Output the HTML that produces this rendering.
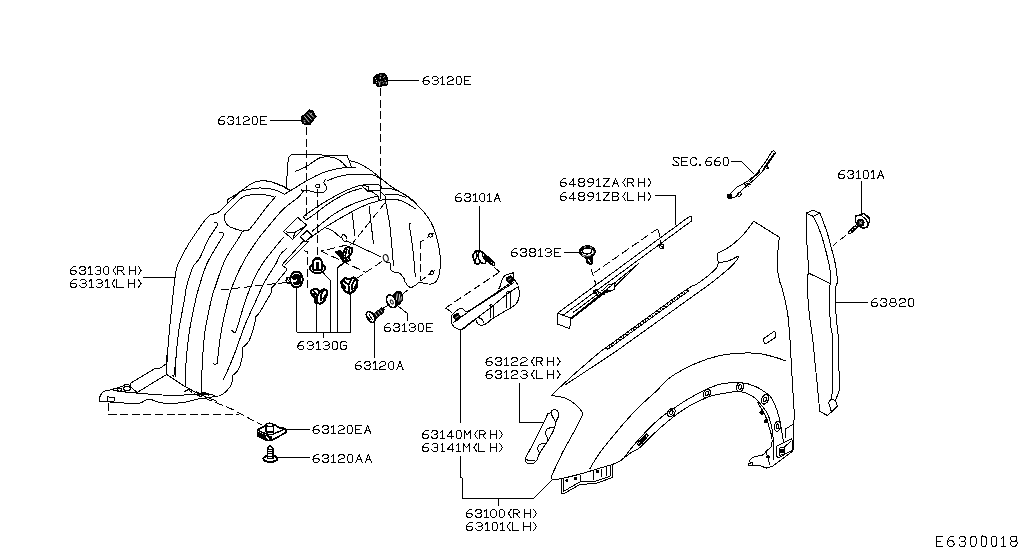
<!DOCTYPE html>
<html><head><meta charset="utf-8"><title>E6300018</title>
<style>
html,body{margin:0;padding:0;background:#fff;}
body{width:1024px;height:560px;overflow:hidden;font-family:"Liberation Mono",monospace;}
svg{display:block;position:absolute;left:0;top:0;}
path,line,ellipse,circle,rect,polygon{shape-rendering:crispEdges;fill:none;stroke:#000;stroke-width:1;stroke-linecap:butt;stroke-linejoin:round;}
.d{stroke-dasharray:8 3.6;}
.ds{stroke-dasharray:5 3.5;}
.f{fill:#000;}
.w{fill:#fff;}
.k{stroke-width:1.6;}
.t{font-family:"Liberation Mono",monospace;font-size:13.6px;fill:#000;stroke:none;}
</style></head><body>
<svg width="1024" height="560" viewBox="0 0 1024 560">
<rect x="0" y="0" width="1024" height="560" style="fill:#fff;stroke:none"/>
<path d="M166.25 375 C166.36 373.12 166.48 370 166.9 363.75 C167.32 357.5 167.82 348.12 168.75 337.5 C169.68 326.88 171.25 311.25 172.5 300 C173.75 288.75 175 276.67 176.25 270 C177.5 263.33 178.04 264.17 180 260 C181.96 255.83 184.88 250.21 188 245 C191.12 239.79 195.71 233.12 198.75 228.75 C201.79 224.38 204.28 221.14 206.25 218.75 C208.22 216.36 209.88 215.12 210.6 214.4"/>
<path d="M210.6 214.4 C211.65 214.18 214.71 214.25 216.9 213.1 C219.09 211.95 221.98 209.17 223.75 207.5 C225.52 205.83 226.88 203.83 227.5 203.1"/>
<path d="M227.5 203.1 C227.6 202.48 226.43 200.96 228.1 199.4 C229.77 197.84 234.68 195.63 237.5 193.75 C240.32 191.87 242.5 189.88 245 188.1 C247.5 186.32 250 184.28 252.5 183.1 C255 181.92 257.08 181.27 260 181 C262.92 180.73 266.88 180.93 270 181.5 C273.12 182.07 276.04 183.4 278.75 184.4 C281.46 185.4 284.38 186.47 286.25 187.5 C288.12 188.53 289.38 190.08 290 190.6"/>
<path d="M227.5 203.1 C229.17 201.67 235.21 196.47 237.5 194.5 C239.79 192.53 237.92 192.32 241.25 191.25 C244.58 190.18 252.71 188.52 257.5 188.1 C262.29 187.68 266.46 188.22 270 188.75 C273.54 189.28 276.35 190.31 278.75 191.25 C281.15 192.19 283.46 193.88 284.4 194.4"/>
<path d="M284.4 194.4 L290 190.6 L298 186.25"/>
<path d="M224.4 215 C227.21 212.18 236.98 201.43 241.25 198.1 C245.52 194.77 246.88 195.62 250 195 C253.12 194.38 256.67 194.3 260 194.4 C263.33 194.5 267.5 195.08 270 195.6 C272.5 196.12 274.17 197.18 275 197.5"/>
<path d="M275.6 195.6 L275 197.5"/>
<path d="M275 197.5 C273.54 199.17 270.42 202.29 266.25 207.5 C262.08 212.71 253.54 224.9 250 228.75 C246.46 232.6 246.25 230.18 245 230.6 C243.75 231.02 242.92 231.14 242.5 231.25"/>
<path d="M242.5 231.25 C240.42 230.53 232.82 228.36 230 226.9 C227.18 225.44 226.53 224.07 225.6 222.5 C224.67 220.93 224.6 218.75 224.4 217.5 C224.2 216.25 224.4 215.42 224.4 215"/>
<path d="M213.75 222.5 C214.38 222.6 216.97 222.47 217.5 223.1 C218.03 223.72 217 225.72 216.9 226.25"/>
<path d="M216.9 226.25 C215.42 228.54 210.82 234.79 208 240 C205.18 245.21 202.58 252.83 200 257.5 C197.42 262.17 194.79 262.92 192.5 268 C190.21 273.08 187.6 282.67 186.25 288 C184.9 293.33 185.65 292.79 184.4 300 C183.15 307.21 180.22 320.83 178.75 331.25 C177.28 341.67 176.22 354.79 175.6 362.5 C174.97 370.21 175.1 375 175 377.5"/>
<path d="M219.4 232.5 C220.12 232.6 223.13 232.47 223.75 233.1 C224.37 233.72 223.21 235.72 223.1 236.25"/>
<path d="M223.1 236.25 C222.68 236.88 223.2 235.62 220.6 240 C218 244.38 210.93 255.21 207.5 262.5 C204.07 269.79 201.98 277.5 200 283.75 C198.02 290 197.37 292.08 195.6 300 C193.83 307.92 190.96 321.25 189.4 331.25 C187.84 341.25 186.97 350.83 186.25 360 C185.53 369.17 185.29 381.88 185.1 386.25"/>
<path d="M242.5 231.25 C241.67 232.71 240.42 235.21 237.5 240 C234.58 244.79 228.75 252.08 225 260 C221.25 267.92 217.29 280.83 215 287.5 C212.71 294.17 212.92 292.71 211.25 300 C209.58 307.29 206.46 321.25 205 331.25 C203.54 341.25 203.12 349.69 202.5 360 C201.88 370.31 201.46 387.58 201.25 393.1"/>
<path d="M298 197.5 C295.42 199.58 287.58 205 282.5 210 C277.42 215 271.67 222.5 267.5 227.5 C263.33 232.5 261.46 234.38 257.5 240 C253.54 245.62 247.71 254.17 243.75 261.25 C239.79 268.33 236.36 276.04 233.75 282.5 C231.14 288.96 230.18 291.88 228.1 300 C226.02 308.12 223.02 321.25 221.25 331.25 C219.48 341.25 218.22 354.58 217.5 360 C216.78 365.42 217 363.12 216.9 363.75"/>
<path d="M216.9 363.75 C216.58 363.86 215.63 364.51 215 364.4 C214.37 364.29 213.42 363.32 213.1 363.1"/>
<path d="M284.4 237.5 C283.88 237.92 284.9 235.62 281.25 240 C277.6 244.38 267.29 256.67 262.5 263.75 C257.71 270.83 255.32 276.46 252.5 282.5 C249.68 288.54 247.89 293.33 245.6 300 C243.31 306.67 240.31 317.4 238.75 322.5 C237.19 327.6 236.97 328.93 236.25 330.6 C235.53 332.27 235.23 332.6 234.4 332.5 C233.57 332.4 231.78 330.42 231.25 330"/>
<path d="M286.9 248.1 C285.75 249.25 281.77 252.5 280 255 C278.23 257.5 278.75 258.73 276.25 263.1 C273.75 267.48 268.33 275.1 265 281.25 C261.67 287.4 259.58 292.71 256.25 300 C252.92 307.29 248.54 316.25 245 325 C241.46 333.75 237.82 345.1 235 352.5 C232.18 359.9 230.08 364.92 228.1 369.4 C226.12 373.88 223.93 377.73 223.1 379.4"/>
<path d="M303.75 240.6 L281.9 265 L286.9 268.75 L286.25 270.6"/>
<path d="M286.25 270.6 C284.38 272.9 277.39 281.58 275 284.4 C272.61 287.22 272.42 286.98 271.9 287.5"/>
<path d="M271.9 287.5 C271.79 288.33 272.08 290.42 271.25 292.5 C270.42 294.58 268.77 296.77 266.9 300 C265.02 303.23 261.88 309.08 260 311.9 C258.12 314.72 256.33 316.07 255.6 316.9"/>
<path d="M255.6 316.9 C255.4 318.25 255.54 320.94 254.4 325 C253.26 329.06 250.73 337.5 248.75 341.25 C246.77 345 243.54 346.46 242.5 347.5"/>
<path d="M242.5 347.5 C242.4 349.38 242.63 355 241.9 358.75 C241.17 362.5 239.67 367.19 238.1 370 C236.53 372.81 233.43 374.67 232.5 375.6"/>
<path d="M232.5 375.6 C232.4 376.85 232.73 380.7 231.9 383.1 C231.07 385.5 229.28 388.02 227.5 390 C225.72 391.98 223.12 393.96 221.25 395 C219.38 396.04 217.92 396.35 216.25 396.25 C214.58 396.15 213.75 394.92 211.25 394.4 C208.75 393.88 202.92 393.32 201.25 393.1"/>
<path d="M303.75 240.6 L306.25 241.9 L308.75 241.25"/>
<path d="M308.75 241.25 L285 265"/>
<path d="M99.5 401.25 C99.5 400.73 99.18 399.35 99.5 398.1 C99.82 396.85 100.57 394.89 101.4 393.75 C102.23 392.61 102.94 391.92 104.5 391.25 C106.06 390.58 108.04 390.48 110.75 389.75 C113.46 389.02 118.36 387.73 120.75 386.9 C123.14 386.07 123.85 385.11 125.1 384.75 C126.35 384.39 127.42 384.5 128.25 384.75 C129.08 385 129.79 386 130.1 386.25"/>
<path d="M130.1 386.25 L130.75 383.1 L154.5 368.75 L157 368.5 L160.1 368.1 L166.75 363.5"/>
<path d="M166.75 355 L166.75 374.4"/>
<path d="M137 392.5 L166.75 374.4 L184.5 386.25 L198.25 393.75 L217 401.25"/>
<path d="M99.5 401.25 C100.96 401.36 103.88 401.59 108.25 401.9 C112.62 402.21 120.54 402.9 125.75 403.1 C130.96 403.3 135.96 403.72 139.5 403.1 C143.04 402.48 145.12 400.02 147 399.4 C148.88 398.78 148.67 398.88 150.75 399.4 C152.83 399.92 156.38 401.82 159.5 402.5 C162.62 403.18 165.33 403.54 169.5 403.5 C173.67 403.46 179.5 403.04 184.5 402.25 C189.5 401.46 195.33 399.54 199.5 398.75 C203.67 397.96 206.71 397.92 209.5 397.5 C212.29 397.08 215.12 396.46 216.25 396.25"/>
<path d="M113.25 390.6 C115.12 390.82 120.54 391.48 124.5 391.9 C128.46 392.32 130.75 392.58 137 393.1 C143.25 393.62 154.08 394.68 162 395 C169.92 395.32 178.46 395.1 184.5 395 C190.54 394.9 193.79 394.5 198.25 394.4 C202.71 394.3 209.08 394.4 211.25 394.4"/>
<path d="M130.1 386.25 L137 392.5"/>
<ellipse cx="127" cy="388.5" rx="3.4" ry="2.2"/>
<ellipse cx="119.5" cy="389.6" rx="2.2" ry="1.6"/>
<path d="M107.6 396.9 L114.5 397.5 L113.9 401.9 L107.6 401.25Z"/>
<path d="M176.4 355 L173.9 376.25 L171.5 374.8"/>
<path d="M184.5 391.5 L188.5 389.5 L192 392.5"/>
<path d="M196 391.5 L200 393.5 L205 392 L209 395.5"/>
<path class="d" d="M108.9 402.5 L108.9 414.4 L239 414.4"/>
<path class="d" d="M194 393.75 L232.5 409.4 L261.5 425"/>
<path d="M286.4 187.5 C286.5 185.62 286.69 180.83 287 176.25 C287.31 171.67 287.73 163.44 288.25 160 C288.77 156.56 289.38 156.53 290.1 155.6 C290.83 154.67 292.18 154.6 292.6 154.4"/>
<path d="M292.6 154.4 L321.4 154.4 L322 155.25 L347 155.25 L348.9 160 L351.4 167.25"/>
<path d="M295.1 171.5 C296.88 170.73 302.73 168.5 305.75 166.9 C308.77 165.3 310.75 163.47 313.25 161.9 C315.75 160.33 317.42 158.23 320.75 157.5 C324.08 156.77 329.92 156.88 333.25 157.5 C336.58 158.12 338.46 159.58 340.75 161.25 C343.04 162.92 345.96 166.46 347 167.5"/>
<path d="M347 167.5 L355.75 167.5"/>
<path d="M290.75 190.6 C293.25 189.04 300.54 184.17 305.75 181.25 C310.96 178.33 316.79 175.18 322 173.1 C327.21 171.02 332.83 169.68 337 168.75 C341.17 167.82 345.33 167.71 347 167.5"/>
<path d="M348.9 160.25 C350.67 160.83 356.07 162.22 359.5 163.75 C362.93 165.28 366.38 167.32 369.5 169.4 C372.62 171.48 374.71 173.44 378.25 176.25 C381.79 179.06 387.79 184.06 390.75 186.25 C393.71 188.44 393.04 187.53 396 189.4 C398.96 191.28 404.75 194.69 408.5 197.5 C412.25 200.31 415.38 203.12 418.5 206.25 C421.62 209.38 424.75 212.71 427.25 216.25 C429.75 219.79 431.83 223.54 433.5 227.5 C435.17 231.46 436.42 237.08 437.25 240 C438.08 242.92 437.98 241.88 438.5 245 C439.02 248.12 440.19 254.38 440.4 258.75 C440.61 263.12 440.27 267.71 439.75 271.25 C439.23 274.79 438.5 277.92 437.25 280 C436 282.08 434.12 283.12 432.25 283.75 C430.38 284.38 428.08 284.06 426 283.75 C423.92 283.44 420.79 282.21 419.75 281.9"/>
<path d="M327 180.6 C329.29 179.83 336.38 177.03 340.75 176 C345.12 174.97 348.46 174.67 353.25 174.4 C358.04 174.13 365.75 174.13 369.5 174.4 C373.25 174.67 373.88 175.17 375.75 176 C377.62 176.83 379.92 178.83 380.75 179.4"/>
<path d="M325.75 179.4 C325.44 179.92 323.79 181.25 323.9 182.5 C324.01 183.75 326.09 185.55 326.4 186.9 C326.71 188.25 326.48 189.67 325.75 190.6 C325.02 191.53 324.08 192.28 322 192.5 C319.92 192.72 315.54 192.22 313.25 191.9 C310.96 191.58 309.81 190.82 308.25 190.6 C306.69 190.38 305.15 190.8 303.9 190.6 C302.65 190.4 301.27 189.6 300.75 189.4"/>
<path d="M300.75 189.4 L303.25 191.9 L298 197.5"/>
<path d="M315.1 186L316.1 184.7L319.1 184.7L320.1 186L319.1 187.3L316.1 187.3Z"/>
<path d="M272 182.5 C273.25 182.92 276.79 183.85 279.5 185 C282.21 186.15 286.79 188.67 288.25 189.4"/>
<path d="M303.4 216.9 C304 216.38 303.9 215.94 307 213.75 C310.1 211.56 316.17 207.29 322 203.75 C327.83 200.21 335.75 195.53 342 192.5 C348.25 189.47 353.88 186.95 359.5 185.6 C365.12 184.25 372.21 184.4 375.75 184.4 C379.29 184.4 379.92 185.4 380.75 185.6"/>
<path d="M305.9 220 C307.43 218.96 311.38 216.46 315.1 213.75 C318.83 211.04 322.93 207.19 328.25 203.75 C333.57 200.31 341.38 195.71 347 193.1 C352.62 190.49 359.5 188.93 362 188.1"/>
<path d="M312.1 231.25 C315.83 228.33 327.64 218.33 334.5 213.75 C341.36 209.17 347 206.46 353.25 203.75 C359.5 201.04 367.83 198.75 372 197.5 C376.17 196.25 377.21 196.46 378.25 196.25"/>
<path d="M310 238 C312.75 236.08 320.33 230.43 326.5 226.5 C332.67 222.57 340.46 217.98 347 214.4 C353.54 210.82 359.92 207.4 365.75 205 C371.58 202.6 378.77 200.83 382 200 C385.23 199.17 384.58 200 385.1 200"/>
<path d="M303.4 216.9 L305.9 220"/>
<path d="M361.4 185.6 L368.25 186.25 L368.25 190.6 L380.75 190.6 L381.4 185.6"/>
<path d="M361.6 185.6 L367.9 191.25 L372.25 191.9 L378.5 196.25 L379.1 200"/>
<path d="M380.4 180 L380.4 191.25 L385.4 196.25 L385.4 200.6"/>
<path d="M381 188.1 C382.67 188.21 387.67 188.02 391 188.75 C394.33 189.48 397.67 190.83 401 192.5 C404.33 194.17 408.29 196.77 411 198.75 C413.71 200.73 416.21 203.46 417.25 204.4"/>
<path d="M384.75 195 C387.04 195 394.96 194.58 398.5 195 C402.04 195.42 404.75 197.08 406 197.5"/>
<path d="M385.4 200 C387.58 200 394.86 199.38 398.5 200 C402.14 200.62 404.43 202.29 407.25 203.75 C410.07 205.21 414.04 207.92 415.4 208.75"/>
<path d="M385.4 200.6 C385.92 203.42 387.67 212.6 388.5 217.5 C389.33 222.4 389.57 221.88 390.4 230 C391.23 238.12 392.98 260.21 393.5 266.25"/>
<path d="M352.25 213.1 L354.75 236.25"/>
<path d="M369.1 206.25 L373.5 244.4"/>
<path d="M408.5 223.1 L411 223.1"/>
<path d="M409.1 223.75 C409.73 228.12 411.85 241.04 412.9 250 C413.95 258.96 414.98 272.92 415.4 277.5"/>
<path d="M326.5 228.1 C327.58 228.58 330.92 229.64 333 231 C335.08 232.36 337.5 235.08 339 236.25 C340.5 237.42 341.5 237.71 342 238"/>
<path d="M347 241.25 L354.75 244.5 L381 256.9"/>
<ellipse cx="385.75" cy="258.1" rx="2.4" ry="3.6" transform="rotate(-15 385.75 258.1)"/>
<ellipse cx="344.4" cy="238.1" rx="2.2" ry="3.6" transform="rotate(-25 344.4 238.1)"/>
<path d="M386 262.5 C386.73 262.6 389.57 261.85 390.4 263.1 C391.23 264.35 390.48 268.53 391 270 C391.52 271.47 392.25 271.48 393.5 271.9 C394.75 272.32 396.83 271.57 398.5 272.5 C400.17 273.43 402.35 275.83 403.5 277.5 C404.65 279.17 404.15 280.83 405.4 282.5 C406.65 284.17 408.61 287.6 411 287.5 C413.39 287.4 418.29 282.83 419.75 281.9"/>
<path d="M283.4 231.5 L297.75 217.5 L306.5 225 L292.75 239.4Z"/>
<path d="M285.9 231.9 L294.6 232.5 L306.5 225.6"/>
<path d="M294.6 232.5 L293.4 238.75"/>
<path d="M300.25 236.9 L307.1 230.6 L312.1 235.6 L305.25 241.9Z"/>
<path class="d" d="M306.5 127 L306.5 219.5"/>
<path class="d" d="M304.4 250.6L307.5 251.9L307.5 288.75L310.6 290.6" style="stroke-dashoffset:3"/>
<path class="d" d="M380.5 88 L380.5 198.75"/>
<path class="d" d="M317.6 188.75 L317.6 257.5"/>
<path class="d" d="M384.75 203.1 L352.25 243.75 L321 251"/>
<path class="d" d="M321 251 L366 272.5"/>
<path class="d" d="M382.25 261.25 L357.25 278.1"/>
<path class="d" d="M286.25 282.5 L268.75 284.4 L221.25 290"/>
<path class="d" d="M420.4 241.25 L420.4 281.25"/>
<path d="M423.5 240 L421 241.9"/>
<path d="M426 276.9 L420.4 281"/>
<path d="M408.5 289.6 L403.3 293.4"/>
<path d="M428.6 236.4L428.8 234.4L430.4 233.4L432 234.2L432.2 236.2L430.6 237.2ZM427 237.6L429 236.4M432 234L433.4 233.2" style="stroke-width:1.2"/>
<path d="M430 273.8L430.2 271.8L431.8 270.8L433.4 271.6L433.6 273.6L432 274.6ZM428.4 275L430.4 273.8M433.4 271.4L434.8 270.6" style="stroke-width:1.2"/>
<g><path class="f" d="M373.1 77.6L376.3 74.8L379.1 73.9L385 73.9L386.9 76.7L387.8 82L386.9 85.4L381.9 85.8L381.3 86.7L378.4 86.7L376.3 85.8L375.9 83.6L373.1 83.6Z"/><path d="M375 78.5L376 78.5M380 75.2L381.5 75.2M380.3 77L380.3 79M383.3 77.8L384.8 76.2M384.8 79.8L385.8 81M376 80.5L377 80.5M376 82.5L377 82.5M378.5 81.5L379.8 83.8L379.5 85.5M380 82.5L381 81.3M382.5 81.5L383 81.5M384 82.5L383 83.8M386.3 82L386.3 84" style="stroke:#fff;stroke-width:0.9"/></g>
<path d="M387.8 80.4 L418.75 80.4"/>
<g><path class="f" d="M301.1 117.4L309.3 109.9L312.4 110.3L316.1 116.5L309.9 124.6L306.1 124.9L303 123.4L301.4 120.3Z"/><path d="M304.3 116.2L309.3 122.2M306.8 114.3L311.6 119.7M308.8 112.3L313.9 117.5M310.5 114.5L312 112.8" style="stroke:#fff;stroke-width:0.9"/><path d="M303.5 120.8L305.3 120.8M304 122.6L305.5 122.6" style="stroke:#fff;stroke-width:0.8"/></g>
<path d="M270 120.5 L301.5 120.5"/>
<path d="M296.5 287.5 L296.5 332 L350.5 332 L350.5 293.75"/>
<path d="M316.25 303.75 L316.25 332"/>
<path d="M322 271.5 L330 280 L330 332"/>
<path d="M337.75 332 L337.75 267.5 L344.75 261.5"/>
<path d="M323.5 332 L323.5 337.5"/>
<ellipse cx="296.5" cy="279.5" rx="6.3" ry="7.8" class="w" style="stroke-width:2"/><path class="f" d="M291.5 277L295.5 274.2L300 275.2L301 279L300.3 283.5L296 285L293.3 283L297 281.5L297.5 278.5L293.5 279.5Z"/><ellipse cx="288.3" cy="280.3" rx="2.1" ry="2.9" class="w" style="stroke-width:1.5"/><path d="M287 279L289.5 281.5" style="stroke-width:1"/>
<ellipse cx="317.5" cy="268.2" rx="7.6" ry="4.8" class="w" style="stroke-width:2"/><path class="w" d="M313.4 269.8L313.4 261L315.3 258.5L319.7 258.5L321.6 261L321.6 269.8Z" style="stroke-width:2.1"/><path d="M317.5 261.5L317.5 269" style="stroke-width:2.6"/><path d="M317.5 257.5L317.5 260" style="stroke-width:1.2"/>
<g><path class="w" d="M310.6 291.3L314.4 288.8L317.5 289.4L320 291.3L323.8 289.4L326.9 290.6L326.9 295L325 298.1L324.4 301.3L320 303.8L315.6 302.5L315 298.1L311.9 295Z" style="stroke-width:2.2"/><path d="M313 290.5L317.5 295.5L317 302.5M320.3 291.5L317.5 295.5M323.5 290.5L320.8 295L321.3 301M325.8 294.5L323 299.5M312 293L315.5 297" style="stroke-width:1.9"/></g>
<g><path class="w" d="M341.3 281.3L345 278.1L350 279.4L353.8 277.5L357.5 280L356.9 286.3L355 290L350 293.8L345 291.3L341.9 286.3Z" style="stroke-width:2.2"/><path d="M343.5 280.5L348.5 285L349 292.5M351 280L348.5 285M355 279.5L352.3 284.5L352.5 291M356.3 285L353.5 289.5M342.5 284L346 288.5" style="stroke-width:1.9"/></g>
<g><path class="f" d="M336 251.9L340 250.8L344 254L345.5 257L343 261L340 256.3Z" style="stroke-width:1.6"/><path class="w" d="M343.1 253.8L345 248.8L348.1 246.9L351.9 248.1L352.5 251.9L350 255L348.1 256.9L350 260L346.3 261.9L342.5 260Z" style="stroke-width:2"/><path d="M346.8 249L345.2 255.5L347 260.5M349.8 248.5L348.5 254.5M344 257.5L346 259" style="stroke-width:1.7"/></g>
<path d="M337.25 268.1 L344.75 262.5"/>
<g><path class="f" d="M393.5 294.5L397 291.5L400.5 291.8L402.6 294.5L402.8 299.5L400 303.5L396.5 306.5L394.5 303Z"/><path d="M397.3 293.5L396.3 300.5M399.8 294L398.8 301.5M401.5 296.5L400.8 300.5" style="stroke:#fff;stroke-width:0.9"/><ellipse class="w" cx="391.4" cy="301.3" rx="4.3" ry="6.8" transform="rotate(-28 391.4 301.3)" style="stroke-width:1.7"/><ellipse cx="391.8" cy="302" rx="1.3" ry="2.2" transform="rotate(-28 391.8 302)" style="stroke-width:1"/></g>
<path d="M398.25 306.25 L407 313.1 L407 321.25"/>
<g><path class="f" d="M372.5 314.8L381.8 307.8L384.2 309.8L383.3 312.5L374.8 319.5Z"/><path d="M375.2 313.3L377.2 316.5M377.7 311.4L379.7 314.5M380.2 309.6L382.2 312.4" style="stroke:#fff;stroke-width:0.9"/><ellipse class="w" cx="370.6" cy="317" rx="3.4" ry="6" transform="rotate(-30 370.6 317)" style="stroke-width:1.9"/><path d="M369 314.5L372.5 319.8M368 317L370.5 320.5" style="stroke-width:1.3"/></g>
<path d="M374.5 322.5 L374.5 357.5"/>
<path d="M383.25 308.1 L389.5 304.4"/>
<g><path class="w" d="M257.3 429.9L266.1 425.2L274.9 424.8L279.6 428L285.1 428.5L286.5 432.2L272.1 440.1L267 440.5L258.2 436.4Z" style="stroke-width:1.7"/><path d="M257.5 430.3L266.5 434L271.5 434.8L285 429" style="stroke-width:1.4"/><path class="f" d="M258.4 432.5L266.5 435.8L271 436.2L272 440L267 440.4L258.4 436.3Z"/><path d="M266 436.5L269.5 439.5" style="stroke:#fff;stroke-width:1.3"/><rect class="w" x="265.8" y="424.6" width="7.6" height="7.2" style="stroke-width:1.6"/><ellipse class="w" cx="269.7" cy="424.9" rx="3.4" ry="1.7" style="stroke-width:1.5"/></g>
<path d="M286 429.4 L309.5 429.4"/>
<g><ellipse class="w" cx="270.3" cy="458.7" rx="7" ry="3.2" style="stroke-width:2"/><path class="w" d="M267.5 458.5L267.5 448.5L270.1 445.3L272.7 448.5L272.7 458.5Z" style="stroke-width:1.7"/><path d="M267.8 449.5L272.4 449.5M267.8 451.7L272.4 451.7M267.8 453.9L272.4 453.9M267.8 456.1L272.4 456.1" style="stroke-width:1.1"/></g>
<path d="M277.7 457.3 L309.5 457.3"/>
<path d="M143 277.5 L176.25 277.5"/>
<path d="M451.4 315.6 L451.4 323.1 L454.5 327.5 L460.75 330"/>
<path d="M451.4 315.6 C451.92 315.08 453.15 313.64 454.5 312.5 C455.85 311.36 458.15 309.38 459.5 308.75 C460.85 308.12 461.67 308.33 462.6 308.75 C463.53 309.17 463.95 310.94 465.1 311.25 C466.25 311.56 468.77 310.71 469.5 310.6"/>
<path d="M469.5 310.6 L502 288.75 L513.25 281.25"/>
<path d="M452.6 323.1 L472 309.4 L503 289.5 L513.9 282.5"/>
<path d="M460.75 330 L475.75 318.75 L490.75 307.5 L505.75 295 L517.6 286.9"/>
<path class="k" d="M461.5 329.8 L475 319.6"/>
<path d="M475.75 319.4 C476.17 320.23 477 323.47 478.25 324.4 C479.5 325.33 481.79 325.22 483.25 325 C484.71 324.78 485.33 324.25 487 323.1 C488.67 321.95 489.92 320.28 493.25 318.1 C496.58 315.92 503.25 312.28 507 310 C510.75 307.72 513.77 306.38 515.75 304.4 C517.73 302.42 518.31 300.17 518.9 298.1 C519.49 296.03 519.41 293.93 519.3 292 C519.19 290.07 518.42 287.42 518.25 286.5"/>
<path d="M478.25 317.5 C478.88 317.82 481.06 318.47 482 319.4 C482.94 320.33 483.58 322.48 483.9 323.1"/>
<path d="M489.5 305.6 L491.4 304.4 L493.25 305.6 L493.9 317.5"/>
<path d="M490 306 L490.75 318.1"/>
<path d="M506.75 291.9 L510.1 291.25 L510.1 306.9"/>
<path d="M506.75 291.9 L507 308.1"/>
<path d="M504.5 275.6 C504.08 276.33 502.73 278.23 502 280 C501.27 281.77 500.68 284.67 500.1 286.25 C499.52 287.83 498.77 288.96 498.5 289.5"/>
<path d="M504.5 275.6 L513.25 272.75 L513.9 278.75 L518.25 285.6"/>
<rect class="f" x="454.2" y="314" width="5.6" height="5.8" rx="1.5" transform="rotate(-30 457 317)"/><path d="M455.5 317.8L458.5 316" style="stroke:#fff;stroke-width:0.8"/>
<rect class="f" x="506.8" y="276.5" width="5.8" height="5.8" rx="1.5" transform="rotate(-30 509.7 279.4)"/><path d="M508.2 280.2L511.2 278.4" style="stroke:#fff;stroke-width:0.8"/>
<path class="d" d="M499.5 271.9 L446.4 307.5"/>
<path d="M445.75 308.1 L452 312.5"/>
<path d="M460.75 330 L460.75 423"/>
<path d="M460.75 456.25 L460.75 477.5 L462 478 L462 498 L533.75 498 L552.5 479.5"/>
<path d="M498.25 498 L498.25 506.25"/>
<path d="M479.4 206 L479.4 250.6"/>
<g><path class="w" d="M472.6 255L475.6 251.2L480.2 250.7L482.5 253L481 262L478 264.3L474.8 263.2Z" style="stroke-width:1.5"/><path d="M476.8 251.5L475.6 262.8" style="stroke-width:1.1"/><ellipse class="w" cx="482.2" cy="257.6" rx="3.6" ry="6.3" transform="rotate(-22 482.2 257.6)" style="stroke-width:1.5"/><ellipse cx="484.8" cy="256.6" rx="1.6" ry="3.6" transform="rotate(-32 484.8 256.6)" style="stroke-width:1.3"/><ellipse cx="486.7" cy="258.2" rx="1.6" ry="3.5" transform="rotate(-32 486.7 258.2)" style="stroke-width:1.3"/><ellipse cx="488.6" cy="259.8" rx="1.6" ry="3.4" transform="rotate(-32 488.6 259.8)" style="stroke-width:1.3"/><ellipse cx="490.5" cy="261.4" rx="1.6" ry="3.2" transform="rotate(-32 490.5 261.4)" style="stroke-width:1.3"/><ellipse cx="492.4" cy="263.0" rx="1.6" ry="3.1" transform="rotate(-32 492.4 263.0)" style="stroke-width:1.3"/></g>
<path d="M493.9 266.9 L499.5 271.9"/>
<path d="M557.6 313.1 L557.6 324.1 L569.7 328.7 L570.9 318.2 L557.6 313.1"/>
<path d="M557.6 313.1 L688.6 217.1 L691.5 216.7 L692 220.6"/>
<path d="M562.9 315.4 L692 220.6"/>
<path d="M570.9 318.2 L639.4 262.9"/>
<path d="M569.7 328.7 L571 319"/>
<path class="k" d="M571.5 318.5 L608 290"/>
<path d="M601.4 291.25 L608.9 284.4 L615.1 283.5 L614.5 289.4 L610.75 291.25 L605.1 292.75 L603.9 295"/>
<path d="M605.75 291.9 L610.75 290 L611.4 291.25"/>
<path d="M614.8 286.5 L639.4 262.9"/>
<path d="M573 312.5 L600 292.5"/>
<path d="M594 290.5L597.5 289.5L598 292L600.5 292.5L600.5 295.3L596.8 295.3L596.5 293L594.3 293Z" style="stroke-width:1.3"/>
<circle cx="661.6" cy="246.4" r="2.2" style="stroke-width:1.2"/><path d="M658.5 244L664.5 248.5M660 240L660 245"/>
<path class="d" d="M593.7 273.1 L657.7 228.6"/>
<path d="M657.7 228.6 L660 236.6"/>
<path class="d" d="M590.9 268.5 L596 284.6"/>
<path d="M655 195.5 L675.5 195.5 L675.5 225.1"/>
<g><path class="f" d="M585.5 255.5L591.5 255L592.8 259.5L592.3 264L589.6 264.6L586.6 262.5Z"/><path d="M588 259.5L590 261.5M590.5 262.8L591.3 262" style="stroke:#fff;stroke-width:1"/><ellipse class="w" cx="587.4" cy="251.6" rx="7.3" ry="5.2" style="stroke-width:2.4"/><ellipse cx="587.2" cy="251" rx="4.6" ry="3" style="stroke-width:1.2"/><path d="M582 255L585 256.5M592.5 254L594 251M584 247.5L586 246.6M590 247L592 248.2" style="stroke:#fff;stroke-width:0.9"/><path d="M585.5 255.8L590.5 255.6" style="stroke:#fff;stroke-width:0.9"/></g>
<path d="M564 252.4 L579 252.4"/>
<path d="M730.6 161.25 L741.25 161.25 L754.4 174.4"/>
<path d="M771.9 151.25 C770.75 153.12 767.61 158.75 765 162.5 C762.39 166.25 759.17 170.62 756.25 173.75 C753.33 176.88 750.62 179.06 747.5 181.25 C744.38 183.44 739.79 185.44 737.5 186.9 C735.21 188.36 735 188.75 733.75 190 C732.5 191.25 730.62 193.67 730 194.4"/>
<path d="M775.6 152.5 C774.67 153.96 772.18 158.12 770 161.25 C767.82 164.38 765.21 168.12 762.5 171.25 C759.79 174.38 756.46 177.5 753.75 180 C751.04 182.5 748.33 184.48 746.25 186.25 C744.17 188.02 742.92 188.93 741.25 190.6 C739.58 192.27 737.92 195 736.25 196.25 C734.58 197.5 732.08 197.79 731.25 198.1"/>
<path d="M771.9 151.25 L774 150.8 L775.6 152.5"/>
<path class="k" d="M774.8 152.8 L763.5 169"/>
<path d="M760 171.5 L749 182"/>
<path d="M766.3 165.6 L768.8 168.1 L765.6 168.1"/>
<rect class="f" x="727.6" y="194.8" width="4.2" height="3.2"/>
<ellipse cx="739.3" cy="194.4" rx="1.7" ry="2.2" transform="rotate(25 739.3 194.4)"/>
<path d="M744.5 184.5 L749 186.5"/>
<path d="M746 183 L750.5 185"/>
<path d="M745 186.5 L749.5 183"/>
<path d="M717.5 253.1 C719.17 252.27 723.75 250.6 727.5 248.1 C731.25 245.6 736.57 241.32 740 238.1 C743.43 234.88 745.81 231.56 748.1 228.75 C750.39 225.94 752.81 222.5 753.75 221.25"/>
<path d="M753.75 221.25 L779.4 237.25"/>
<path d="M779.4 237.25 C779.18 239.17 778.42 244.54 778.1 248.75 C777.78 252.96 777.56 258.75 777.5 262.5 C777.44 266.25 777.33 267.92 777.75 271.25 C778.17 274.58 779.21 279.38 780 282.5 C780.79 285.62 781.25 285 782.5 290 C783.75 295 786.25 304.17 787.5 312.5 C788.75 320.83 789.38 331.67 790 340 C790.62 348.33 790.75 353.75 791.25 362.5 C791.75 371.25 792.48 383.75 793 392.5 C793.52 401.25 794.17 411.25 794.4 415"/>
<path d="M794.4 415 L793.75 423.75 L785 429.4 L785 437.5"/>
<path d="M793.75 423.75 L793.1 450 L792.5 451.9"/>
<path d="M717.5 253.1 L718.1 262.5"/>
<path d="M718.1 262.5 C717.9 263.33 718.67 265.21 716.9 267.5 C715.13 269.79 710.94 273.43 707.5 276.25 C704.06 279.07 699.68 282.24 696.25 284.4 C692.82 286.56 694.61 283.98 686.9 289.2 C679.19 294.42 661.57 307.35 650 315.7 C638.43 324.05 625.1 333.79 617.5 339.3 C609.9 344.81 607.32 346.63 604.4 348.75 C601.48 350.87 604.9 347.88 600 352 C595.1 356.12 583.12 366.25 575 373.5 C566.88 380.75 555.21 391.83 551.25 395.5"/>
<path d="M718.1 262.5 C719.67 262.29 724.17 262.29 727.5 261.25 C730.83 260.21 736.33 257.08 738.1 256.25"/>
<path d="M738.1 256.25 L738.1 257"/>
<path d="M738.1 257 C737.92 257.5 738.35 258.25 737 260 C735.65 261.75 732.62 265 730 267.5 C727.38 270 724.68 272.18 721.25 275 C717.82 277.82 714.61 280.52 709.4 284.4 C704.19 288.28 697.4 292.99 690 298.3 C682.6 303.61 674.58 309.38 665 316.25 C655.42 323.12 640.21 333.98 632.5 339.5 C624.79 345.02 624.17 345.65 618.75 349.4 C613.33 353.15 608.96 356.07 600 362 C591.04 367.93 570.83 381.17 565 385"/>
<path d="M686.9 289.2 L688.6 291 L665 308 L640 326 L606.6 350.2"/>
<path d="M687.6 290.2 L664.2 307 L639.2 325 L605.5 349.4" style="stroke-dasharray:1.3 1.7"/>
<path d="M551.25 395.5 C553.54 395.92 560.83 396.42 565 398 C569.17 399.58 573.43 402.68 576.25 405 C579.07 407.32 580.86 410.33 581.9 411.9 C582.94 413.47 582.82 413.05 582.5 414.4 C582.18 415.75 580.42 419.07 580 420"/>
<path d="M580 420 L575 430 L562.5 452.5 L552.5 473.75 L551.25 478.1 L552.5 479.4"/>
<path d="M552.5 479.4 C553.85 479.29 555.81 479.69 560.6 478.75 C565.39 477.81 574.68 475.52 581.25 473.75 C587.82 471.98 594.79 469.66 600 468.1 C605.21 466.54 609.17 465.58 612.5 464.4 C615.83 463.22 618.12 462.05 620 461 C621.88 459.95 623.12 458.58 623.75 458.1"/>
<path d="M623.75 458.1 C625.62 455.71 630.62 448.85 635 443.75 C639.38 438.65 645.42 432.08 650 427.5 C654.58 422.92 658.33 419.58 662.5 416.25 C666.67 412.92 670.83 410.31 675 407.5 C679.17 404.69 683.33 401.9 687.5 399.4 C691.67 396.9 696.08 394.52 700 392.5 C703.92 390.48 707.25 388.76 711 387.3 C714.75 385.84 717.67 384.55 722.5 383.75 C727.33 382.95 734.58 382.08 740 382.5 C745.42 382.92 750.21 384.17 755 386.25 C759.79 388.33 765.83 392.71 768.75 395 C771.67 397.29 771.14 397.5 772.5 400 C773.86 402.5 775.65 406.46 776.9 410 C778.15 413.54 779.17 417.5 780 421.25 C780.83 425 781.27 428.96 781.9 432.5 C782.52 436.04 783.44 440.83 783.75 442.5"/>
<path d="M623.75 458.1 C625 457.17 628.54 454.27 631.25 452.5 C633.96 450.73 636.46 450.42 640 447.5 C643.54 444.58 648.33 438.96 652.5 435 C656.67 431.04 660.83 427.29 665 423.75 C669.17 420.21 673.33 416.77 677.5 413.75 C681.67 410.73 685.83 407.99 690 405.6 C694.17 403.21 698.75 401.07 702.5 399.4 C706.25 397.73 708.75 396.65 712.5 395.6 C716.25 394.55 720.42 393.77 725 393.1 C729.58 392.43 735.42 391.08 740 391.6 C744.58 392.12 748.96 394.02 752.5 396.25 C756.04 398.48 758.75 402.08 761.25 405 C763.75 407.92 765.83 410.42 767.5 413.75 C769.17 417.08 770.32 421.04 771.25 425 C772.18 428.96 772.68 431.67 773.1 437.5 C773.52 443.33 773.64 456.25 773.75 460"/>
<path d="M757.5 402.5 C758.75 404.58 762.92 410.42 765 415 C767.08 419.58 768.85 426.25 770 430 C771.15 433.75 771.58 434.79 771.9 437.5 C772.22 440.21 771.9 444.79 771.9 446.25"/>
<path d="M589.4 469.4 C591.17 466.58 595.73 458.44 600 452.5 C604.27 446.56 609.79 440 615 433.75 C620.21 427.5 626.46 420.21 631.25 415 C636.04 409.79 639.38 406.67 643.75 402.5 C648.12 398.33 653.12 394.17 657.5 390 C661.88 385.83 663.75 381.88 670 377.5 C676.25 373.12 686.67 367.42 695 363.75 C703.33 360.08 711.67 357.29 720 355.5 C728.33 353.71 738.33 353.29 745 353 C751.67 352.71 754.83 353 760 353.75 C765.17 354.5 771.62 356.25 776 357.5 C780.38 358.75 784.54 360.62 786.25 361.25"/>
<path d="M763.4 338.8 L773.8 331.6 L775.6 332.4 L775.6 337.4 L766.2 343.4 L764.4 343.2 L763.4 340.5Z"/>
<g transform="rotate(25 706.9 393.5)"><ellipse cx="706.9" cy="393.5" rx="3.3" ry="4.6" style="stroke-width:1.2"/><ellipse cx="706.9" cy="393.5" rx="1.48" ry="2.07" style="stroke-width:1.2"/></g>
<g transform="rotate(15 740 387)"><ellipse cx="740" cy="387" rx="3.3" ry="5" style="stroke-width:1.2"/><ellipse cx="740" cy="387" rx="1.48" ry="2.25" style="stroke-width:1.2"/></g>
<g transform="rotate(25 765 399.3)"><ellipse cx="765" cy="399.3" rx="3.3" ry="5" style="stroke-width:1.2"/><ellipse cx="765" cy="399.3" rx="1.48" ry="2.25" style="stroke-width:1.2"/></g>
<g transform="rotate(10 777.5 426.3)"><ellipse cx="777.5" cy="426.3" rx="3" ry="5" style="stroke-width:1.2"/><ellipse cx="777.5" cy="426.3" rx="1.35" ry="2.25" style="stroke-width:1.2"/></g>
<g transform="rotate(38 671.3 412.5)"><ellipse cx="671.3" cy="412.5" rx="3.3" ry="4.6" style="stroke-width:1.2"/><ellipse cx="671.3" cy="412.5" rx="1.48" ry="2.07" style="stroke-width:1.2"/></g>
<circle class="f" cx="761.9" cy="412.5" r="1.9"/><circle class="f" cx="766.3" cy="421.3" r="1.7"/>
<g><path d="M637 444L646.5 434L648.3 435.7L639.2 445.6Z" style="stroke-width:1.3"/><path d="M639 441.3L642.3 443.8M641.3 438.8L644.6 441.3M643.6 436.5L646.6 438.8M638.5 444.5L646 436" style="stroke-width:1.1"/></g>
<path d="M776.9 446.25 L791.25 438.75 L792.5 441.25 L792.5 450 L778.1 458.1 L776.9 456.25Z"/>
<path d="M779.4 448.1 L784.4 446.9 L784.4 453.75 L779.4 455.6Z"/>
<rect class="f" x="780.5" y="449.5" width="2.6" height="3.4"/>
<path d="M784.4 446.9 L791.25 441"/>
<path d="M771.9 446.25 C770.96 447.08 767.82 449.79 766.25 451.25 C764.68 452.71 764.79 453.96 762.5 455 C760.21 456.04 754.79 456.25 752.5 457.5 C750.21 458.75 749.38 461.67 748.75 462.5"/>
<path d="M748.75 462.5 L748.75 465.6 L753.1 465 L760 465.6 L766.25 468.1 L772.5 466.25 L792.5 451.25"/>
<path d="M766.25 452.5 L770 465"/>
<path d="M753.1 465 L752.5 462.8 L748.75 463.2"/>
<circle class="f" cx="768.1" cy="456.9" r="1.3"/>
<path d="M561.25 478.75 L561.25 493.1 L563.75 493.75 L580 484.4 L595.6 483.5 L612.5 477.5 L612.5 465"/>
<path d="M563.1 478.75 L563.75 491.25 L580 481.9 L595 481.25 L610 476.25 L610 466.25"/>
<path d="M580 475 L580 481.9"/>
<path d="M593.75 471.25 L593.75 480"/>
<path d="M601.9 468.75 L601.9 476.9"/>
<path d="M606.9 466.9 L606.9 475.6"/>
<circle class="f" cx="566.9" cy="480.3" r="1.1"/><circle class="f" cx="575.6" cy="478.3" r="1.1"/><circle class="f" cx="597.5" cy="471.5" r="1"/>
<path d="M548.1 413.1 C547.38 414.67 546.14 417.6 543.75 422.5 C541.36 427.4 536.77 436.57 533.75 442.5 C530.73 448.43 526.96 454.98 525.6 458.1 C524.24 461.23 525.28 460.42 525.6 461.25 C525.92 462.08 526.14 462.79 527.5 463.1 C528.86 463.41 532.18 463.62 533.75 463.1 C535.32 462.58 536.38 460.52 536.9 460"/>
<path d="M536.9 460 C537.42 458.75 538.23 455.62 540 452.5 C541.77 449.38 545.21 445 547.5 441.25 C549.79 437.5 552.29 433.44 553.75 430 C555.21 426.56 555.42 422.89 556.25 420.6 C557.08 418.31 558.44 417.7 558.75 416.25 C559.06 414.8 558.73 413.04 558.1 411.9 C557.48 410.76 556.03 409.62 555 409.4 C553.97 409.18 552.73 409.98 551.9 410.6 C551.07 411.22 550.63 412.68 550 413.1 C549.37 413.52 548.42 413.1 548.1 413.1"/>
<path d="M551.9 410.6 C551.79 411.12 550.94 412.39 551.25 413.75 C551.56 415.11 553.02 417.5 553.75 418.75 C554.48 420 554.89 421.29 555.6 421.25 C556.31 421.21 557.6 418.96 558 418.5"/>
<path d="M555 426.9 C553.75 427.21 549.07 427.72 547.5 428.75 C545.93 429.78 545.6 431.43 545.6 433.1 C545.6 434.77 547.28 437.18 547.5 438.75 C547.72 440.32 547 441.88 546.9 442.5"/>
<path d="M546.9 443.1 C545.75 443.32 541.57 443.57 540 444.4 C538.43 445.23 537.6 446.65 537.5 448.1 C537.4 449.55 539.08 452.27 539.4 453.1"/>
<path d="M525.6 459.5 C526.33 459.67 528.35 460.42 530 460.5 C531.65 460.58 534.58 460.08 535.5 460"/>
<path d="M519.4 382.5 L519.4 422.5 L543.75 422.5"/>
<path d="M806.25 213.1 C806.36 218 806.48 233.02 806.9 242.5 C807.32 251.98 808.44 264.9 808.75 270 C809.06 275.1 808.75 272.58 808.75 273.1"/>
<path d="M807.75 275 C807.75 278.33 807.38 287.5 807.75 295 C808.12 302.5 809.17 312.6 810 320 C810.83 327.4 811.92 332.32 812.75 339.4 C813.58 346.48 814 352.4 815 362.5 C816 372.6 818.02 391.88 818.75 400 C819.48 408.12 819.29 409.38 819.4 411.25"/>
<path d="M808.75 273.1 L807.75 275"/>
<path d="M819.4 411.25 L827.5 415.6 L837.5 406.25 L835.6 400.5"/>
<path d="M806.25 213.1 L813.1 210.25 L820 213.1 L813.1 216.25 L806.25 213.1"/>
<path d="M820 213.1 C820.52 214.46 821.85 217.81 823.1 221.25 C824.35 224.69 826.14 229.38 827.5 233.75 C828.86 238.12 830 242.71 831.25 247.5 C832.5 252.29 834.17 258.75 835 262.5 C835.83 266.25 835.79 266.77 836.25 270 C836.71 273.23 837.5 279.92 837.75 281.9"/>
<path d="M836 285.6 C835.93 289.25 835.35 300.1 835.6 307.5 C835.85 314.9 837.02 324.68 837.5 330 C837.98 335.32 838.29 335.23 838.5 339.4 C838.71 343.57 838.62 346.57 838.75 355 C838.88 363.43 839.21 384.17 839.3 390"/>
<path d="M837.75 281.9 L836 285.6"/>
<path d="M839.3 390 L835.6 400.5 L831 399 L828.5 402.5 L831.25 411.25 L837.5 406.25"/>
<path d="M813.1 216.25 C813.83 217.71 815.93 221.25 817.5 225 C819.07 228.75 820.93 233.75 822.5 238.75 C824.07 243.75 825.65 249.79 826.9 255 C828.15 260.21 829.38 265.42 830 270 C830.62 274.58 830.5 280.42 830.6 282.5"/>
<path d="M829.75 286.25 C829.69 289.79 829.15 300.21 829.4 307.5 C829.65 314.79 830.73 324.68 831.25 330 C831.77 335.32 832.24 329.4 832.5 339.4 C832.76 349.4 832.75 381.57 832.8 390"/>
<path d="M830.6 282.5 L829.75 286.25"/>
<path d="M832.8 390 L831 399"/>
<path d="M808.75 273.1 L830 283.5"/>
<path d="M836 302.5 L867.5 302.5"/>
<path d="M861.75 180.5 L861.75 213.75"/>
<g><ellipse class="w" cx="856.3" cy="226.6" rx="1.4" ry="3.0" transform="rotate(40 856.3 226.6)" style="stroke-width:1.3"/><ellipse class="w" cx="854.3" cy="228.3" rx="1.4" ry="2.8" transform="rotate(40 854.3 228.3)" style="stroke-width:1.3"/><ellipse class="w" cx="852.3" cy="230.0" rx="1.4" ry="2.5" transform="rotate(40 852.3 230.0)" style="stroke-width:1.3"/><ellipse class="w" cx="850.3" cy="231.7" rx="1.4" ry="2.2" transform="rotate(40 850.3 231.7)" style="stroke-width:1.3"/><path class="w" d="M855.3 216.3L860 215L863.8 213.4L868.8 217.5L869.7 220.9L866.9 227.5L863.1 228.1L859.5 226.5L855.3 221.3Z" style="stroke-width:1.5"/><path d="M860.5 214.8L866 219.5L868 223.5M863.8 213.6L869 218.5" style="stroke-width:1.2"/><circle class="f" cx="860.6" cy="222.8" r="3.5"/><path d="M859 221.5L862 224M862 221L859.5 224.3" style="stroke:#fff;stroke-width:0.8"/></g>
<path d="M848.1 232 L850 230.6"/>
<path d="M840 240 L845.6 235.6"/>
<path d="M833.1 245.6 L836.9 242.5"/>
<path d="M428.48 76.86 L427.03 76.5 L425.49 77.14 L423.87 78.77 L423.1 80.68 L423.1 82.86 L424.64 84.5 L427.54 84.5 L429.08 82.86 L429.08 81.68 L427.54 80.14 L424.64 80.14 L423.1 81.5M432.24 78.14 L433.44 76.5 L436.51 76.5 L438.05 78.14 L438.05 79.23 L436.51 80.41 L434.46 80.41M436.51 80.41 L438.05 81.23 L438.05 82.86 L436.51 84.5 L433.44 84.5 L432.07 82.86M440.91 78.23 L442.79 76.5 L442.79 84.5M441.08 84.5 L444.67 84.5M447.36 78.14 L448.9 76.5 L451.8 76.5 L453.34 78.14 L453.34 79.41 L451.8 80.68 L448.9 81.23 L447.36 82.86 L447.36 84.5 L453.34 84.5M457.6 76.5 L460.01 76.5 L461.28 78.14 L461.28 82.86 L460.01 84.5 L457.6 84.5 L456.33 82.86 L456.33 78.14 L457.6 76.5M470.25 76.5 L464.27 76.5 L464.27 84.5 L470.25 84.5M464.27 80.41 L468.54 80.41" style="stroke-width:1;stroke-linejoin:round;stroke-linecap:square"/>
<path d="M223.98 116.86 L222.5 116.5 L220.93 117.14 L219.28 118.77 L218.5 120.68 L218.5 122.86 L220.07 124.5 L223.02 124.5 L224.59 122.86 L224.59 121.68 L223.02 120.14 L220.07 120.14 L218.5 121.5M227.8 118.14 L229.02 116.5 L232.15 116.5 L233.72 118.14 L233.72 119.23 L232.15 120.41 L230.07 120.41M232.15 120.41 L233.72 121.23 L233.72 122.86 L232.15 124.5 L229.02 124.5 L227.63 122.86M236.63 118.23 L238.54 116.5 L238.54 124.5M236.8 124.5 L240.46 124.5M243.2 118.14 L244.76 116.5 L247.72 116.5 L249.28 118.14 L249.28 119.41 L247.72 120.68 L244.76 121.23 L243.2 122.86 L243.2 124.5 L249.28 124.5M253.62 116.5 L256.07 116.5 L257.37 118.14 L257.37 122.86 L256.07 124.5 L253.62 124.5 L252.33 122.86 L252.33 118.14 L253.62 116.5M266.5 116.5 L260.41 116.5 L260.41 124.5 L266.5 124.5M260.41 120.41 L264.76 120.41" style="stroke-width:1;stroke-linejoin:round;stroke-linecap:square"/>
<path d="M75.75 266.86 L74.28 266.5 L72.72 267.14 L71.08 268.77 L70.3 270.68 L70.3 272.86 L71.86 274.5 L74.8 274.5 L76.35 272.86 L76.35 271.68 L74.8 270.14 L71.86 270.14 L70.3 271.5M79.56 268.14 L80.77 266.5 L83.88 266.5 L85.44 268.14 L85.44 269.23 L83.88 270.41 L81.8 270.41M83.88 270.41 L85.44 271.23 L85.44 272.86 L83.88 274.5 L80.77 274.5 L79.38 272.86M88.34 268.23 L90.24 266.5 L90.24 274.5M88.51 274.5 L92.14 274.5M95.04 268.14 L96.25 266.5 L99.36 266.5 L100.92 268.14 L100.92 269.23 L99.36 270.41 L97.29 270.41M99.36 270.41 L100.92 271.23 L100.92 272.86 L99.36 274.5 L96.25 274.5 L94.87 272.86M105.24 266.5 L107.68 266.5 L108.97 268.14 L108.97 272.86 L107.68 274.5 L105.24 274.5 L103.95 272.86 L103.95 268.14 L105.24 266.5M115.8 266.5 L113.2 270.5 L115.8 274.5M117.92 274.5 L117.92 266.5 L122.42 266.5 L123.97 268.14 L123.97 269.23 L122.42 270.5 L117.92 270.5M121.03 270.5 L123.97 274.5M129.02 266.5 L129.02 274.5M135.07 266.5 L135.07 274.5M129.02 270.41 L135.07 270.41M138.51 266.5 L141.1 270.5 L138.51 274.5" style="stroke-width:1;stroke-linejoin:round;stroke-linecap:square"/>
<path d="M75.98 279.86 L74.45 279.5 L72.82 280.14 L71.11 281.77 L70.3 283.68 L70.3 285.86 L71.92 287.5 L74.99 287.5 L76.61 285.86 L76.61 284.68 L74.99 283.14 L71.92 283.14 L70.3 284.5M79.94 281.14 L81.21 279.5 L84.45 279.5 L86.07 281.14 L86.07 282.23 L84.45 283.41 L82.29 283.41M84.45 283.41 L86.07 284.23 L86.07 285.86 L84.45 287.5 L81.21 287.5 L79.76 285.86M89.09 281.23 L91.08 279.5 L91.08 287.5M89.27 287.5 L93.06 287.5M96.08 281.14 L97.34 279.5 L100.58 279.5 L102.21 281.14 L102.21 282.23 L100.58 283.41 L98.42 283.41M100.58 283.41 L102.21 284.23 L102.21 285.86 L100.58 287.5 L97.34 287.5 L95.9 285.86M105.23 281.23 L107.21 279.5 L107.21 287.5M105.41 287.5 L109.19 287.5M114.74 279.5 L112.03 283.5 L114.74 287.5M116.94 279.5 L116.94 287.5 L123.25 287.5M128.51 279.5 L128.51 287.5M134.82 279.5 L134.82 287.5M128.51 283.41 L134.82 283.41M138.4 279.5 L141.1 283.5 L138.4 287.5" style="stroke-width:1;stroke-linejoin:round;stroke-linecap:square"/>
<path d="M303.34 341.86 L301.83 341.5 L300.24 342.14 L298.55 343.77 L297.75 345.68 L297.75 347.86 L299.35 349.5 L302.37 349.5 L303.96 347.86 L303.96 346.68 L302.37 345.14 L299.35 345.14 L297.75 346.5M307.25 343.14 L308.49 341.5 L311.69 341.5 L313.28 343.14 L313.28 344.23 L311.69 345.41 L309.56 345.41M311.69 345.41 L313.28 346.23 L313.28 347.86 L311.69 349.5 L308.49 349.5 L307.07 347.86M316.26 343.23 L318.21 341.5 L318.21 349.5M316.44 349.5 L320.16 349.5M323.14 343.14 L324.38 341.5 L327.58 341.5 L329.17 343.14 L329.17 344.23 L327.58 345.41 L325.45 345.41M327.58 345.41 L329.17 346.23 L329.17 347.86 L327.58 349.5 L324.38 349.5 L322.96 347.86M333.6 341.5 L336.11 341.5 L337.43 343.14 L337.43 347.86 L336.11 349.5 L333.6 349.5 L332.28 347.86 L332.28 343.14 L333.6 341.5M346.75 342.95 L345.15 341.5 L342.13 341.5 L340.54 343.14 L340.54 347.86 L342.13 349.5 L345.15 349.5 L346.75 347.86 L346.75 345.68 L343.91 345.68" style="stroke-width:1;stroke-linejoin:round;stroke-linecap:square"/>
<path d="M389.89 323.86 L388.41 323.5 L386.84 324.14 L385.18 325.77 L384.4 327.68 L384.4 329.86 L385.97 331.5 L388.93 331.5 L390.5 329.86 L390.5 328.68 L388.93 327.14 L385.97 327.14 L384.4 328.5M393.72 325.14 L394.94 323.5 L398.08 323.5 L399.65 325.14 L399.65 326.23 L398.08 327.41 L395.99 327.41M398.08 327.41 L399.65 328.23 L399.65 329.86 L398.08 331.5 L394.94 331.5 L393.55 329.86M402.57 325.23 L404.49 323.5 L404.49 331.5M402.74 331.5 L406.4 331.5M409.32 325.14 L410.54 323.5 L413.68 323.5 L415.25 325.14 L415.25 326.23 L413.68 327.41 L411.59 327.41M413.68 327.41 L415.25 328.23 L415.25 329.86 L413.68 331.5 L410.54 331.5 L409.15 329.86M419.59 323.5 L422.05 323.5 L423.35 325.14 L423.35 329.86 L422.05 331.5 L419.59 331.5 L418.3 329.86 L418.3 325.14 L419.59 323.5M432.5 323.5 L426.4 323.5 L426.4 331.5 L432.5 331.5M426.4 327.41 L430.76 327.41" style="stroke-width:1;stroke-linejoin:round;stroke-linecap:square"/>
<path d="M360.7 361.86 L359.23 361.5 L357.67 362.14 L356.03 363.77 L355.25 365.68 L355.25 367.86 L356.81 369.5 L359.75 369.5 L361.31 367.86 L361.31 366.68 L359.75 365.14 L356.81 365.14 L355.25 366.5M364.51 363.14 L365.72 361.5 L368.83 361.5 L370.39 363.14 L370.39 364.23 L368.83 365.41 L366.75 365.41M368.83 365.41 L370.39 366.23 L370.39 367.86 L368.83 369.5 L365.72 369.5 L364.33 367.86M373.29 363.23 L375.19 361.5 L375.19 369.5M373.46 369.5 L377.09 369.5M379.82 363.14 L381.37 361.5 L384.32 361.5 L385.87 363.14 L385.87 364.41 L384.32 365.68 L381.37 366.23 L379.82 367.86 L379.82 369.5 L385.87 369.5M390.19 361.5 L392.63 361.5 L393.92 363.14 L393.92 367.86 L392.63 369.5 L390.19 369.5 L388.9 367.86 L388.9 363.14 L390.19 361.5M396.94 369.5 L399.97 361.5 L403 369.5M398.07 366.77 L401.88 366.77" style="stroke-width:1;stroke-linejoin:round;stroke-linecap:square"/>
<path d="M318.63 425.86 L317.14 425.5 L315.56 426.14 L313.89 427.77 L313.1 429.68 L313.1 431.86 L314.68 433.5 L317.66 433.5 L319.24 431.86 L319.24 430.68 L317.66 429.14 L314.68 429.14 L313.1 430.5M322.49 427.14 L323.72 425.5 L326.88 425.5 L328.46 427.14 L328.46 428.23 L326.88 429.41 L324.77 429.41M326.88 429.41 L328.46 430.23 L328.46 431.86 L326.88 433.5 L323.72 433.5 L322.31 431.86M331.4 427.23 L333.33 425.5 L333.33 433.5M331.57 433.5 L335.26 433.5M338.02 427.14 L339.6 425.5 L342.58 425.5 L344.16 427.14 L344.16 428.41 L342.58 429.68 L339.6 430.23 L338.02 431.86 L338.02 433.5 L344.16 433.5M348.54 425.5 L351.02 425.5 L352.32 427.14 L352.32 431.86 L351.02 433.5 L348.54 433.5 L347.23 431.86 L347.23 427.14 L348.54 425.5M361.54 425.5 L355.39 425.5 L355.39 433.5 L361.54 433.5M355.39 429.41 L359.78 429.41M364.61 433.5 L367.68 425.5 L370.75 433.5M365.75 430.77 L369.61 430.77" style="stroke-width:1;stroke-linejoin:round;stroke-linecap:square"/>
<path d="M318.7 454.86 L317.19 454.5 L315.59 455.14 L313.9 456.77 L313.1 458.68 L313.1 460.86 L314.7 462.5 L317.72 462.5 L319.32 460.86 L319.32 459.68 L317.72 458.14 L314.7 458.14 L313.1 459.5M322.61 456.14 L323.86 454.5 L327.06 454.5 L328.66 456.14 L328.66 457.23 L327.06 458.41 L324.92 458.41M327.06 458.41 L328.66 459.23 L328.66 460.86 L327.06 462.5 L323.86 462.5 L322.43 460.86M331.63 456.23 L333.59 454.5 L333.59 462.5M331.81 462.5 L335.54 462.5M338.34 456.14 L339.94 454.5 L342.97 454.5 L344.57 456.14 L344.57 457.41 L342.97 458.68 L339.94 459.23 L338.34 460.86 L338.34 462.5 L344.57 462.5M349 454.5 L351.51 454.5 L352.83 456.14 L352.83 460.86 L351.51 462.5 L349 462.5 L347.68 460.86 L347.68 456.14 L349 454.5M355.94 462.5 L359.06 454.5 L362.17 462.5M357.1 459.77 L361.01 459.77M365.28 462.5 L368.39 454.5 L371.5 462.5M366.43 459.77 L370.34 459.77" style="stroke-width:1;stroke-linejoin:round;stroke-linecap:square"/>
<path d="M460.91 193.86 L459.45 193.5 L457.9 194.14 L456.27 195.77 L455.5 197.68 L455.5 199.86 L457.05 201.5 L459.97 201.5 L461.51 199.86 L461.51 198.68 L459.97 197.14 L457.05 197.14 L455.5 198.5M464.69 195.14 L465.89 193.5 L468.99 193.5 L470.53 195.14 L470.53 196.23 L468.99 197.41 L466.92 197.41M468.99 197.41 L470.53 198.23 L470.53 199.86 L468.99 201.5 L465.89 201.5 L464.52 199.86M473.41 195.23 L475.3 193.5 L475.3 201.5M473.58 201.5 L477.19 201.5M481.17 193.5 L483.6 193.5 L484.88 195.14 L484.88 199.86 L483.6 201.5 L481.17 201.5 L479.89 199.86 L479.89 195.14 L481.17 193.5M487.75 195.23 L489.64 193.5 L489.64 201.5M487.92 201.5 L491.53 201.5M494.24 201.5 L497.24 193.5 L500.25 201.5M495.35 198.77 L499.13 198.77" style="stroke-width:1;stroke-linejoin:round;stroke-linecap:square"/>
<path d="M565.7 178.86 L564.21 178.5 L562.64 179.14 L560.99 180.77 L560.2 182.68 L560.2 184.86 L561.77 186.5 L564.74 186.5 L566.31 184.86 L566.31 183.68 L564.74 182.14 L561.77 182.14 L560.2 183.5M573.9 186.5 L573.9 178.5 L569.36 184.14 L575.47 184.14M579.92 178.5 L583.24 178.5 L584.29 179.59 L584.29 181.23 L583.24 182.32 L579.92 182.32 L578.87 181.23 L578.87 179.59 L579.92 178.5M580.1 182.32 L578.53 183.23 L578.53 184.86 L580.1 186.5 L583.06 186.5 L584.63 184.86 L584.63 183.23 L583.06 182.32M588.3 186.14 L589.78 186.5 L591.35 185.86 L593.01 184.23 L593.8 182.32 L593.8 180.14 L592.23 178.5 L589.26 178.5 L587.69 180.14 L587.69 181.32 L589.26 182.86 L592.23 182.86 L593.8 181.5M596.72 180.23 L598.64 178.5 L598.64 186.5M596.9 186.5 L600.56 186.5M603.31 178.5 L609.42 178.5 L603.31 186.5 L609.42 186.5M612.47 186.5 L615.53 178.5 L618.58 186.5M613.61 183.77 L617.45 183.77M625.47 178.5 L622.86 182.5 L625.47 186.5M627.61 186.5 L627.61 178.5 L632.15 178.5 L633.72 180.14 L633.72 181.23 L632.15 182.5 L627.61 182.5M630.75 182.5 L633.72 186.5M638.81 178.5 L638.81 186.5M644.92 178.5 L644.92 186.5M638.81 182.41 L644.92 182.41M648.38 178.5 L651 182.5 L648.38 186.5" style="stroke-width:1;stroke-linejoin:round;stroke-linecap:square"/>
<path d="M565.7 192.86 L564.21 192.5 L562.64 193.14 L560.99 194.77 L560.2 196.68 L560.2 198.86 L561.77 200.5 L564.74 200.5 L566.31 198.86 L566.31 197.68 L564.74 196.14 L561.77 196.14 L560.2 197.5M573.9 200.5 L573.9 192.5 L569.36 198.14 L575.47 198.14M579.92 192.5 L583.24 192.5 L584.29 193.59 L584.29 195.23 L583.24 196.32 L579.92 196.32 L578.87 195.23 L578.87 193.59 L579.92 192.5M580.1 196.32 L578.53 197.23 L578.53 198.86 L580.1 200.5 L583.06 200.5 L584.63 198.86 L584.63 197.23 L583.06 196.32M588.3 200.14 L589.78 200.5 L591.35 199.86 L593.01 198.23 L593.8 196.32 L593.8 194.14 L592.23 192.5 L589.26 192.5 L587.69 194.14 L587.69 195.32 L589.26 196.86 L592.23 196.86 L593.8 195.5M596.72 194.23 L598.64 192.5 L598.64 200.5M596.9 200.5 L600.56 200.5M603.31 192.5 L609.42 192.5 L603.31 200.5 L609.42 200.5M612.47 192.5 L612.47 200.5 L617.01 200.5 L618.58 198.86 L618.58 197.23 L617.01 196.32 L612.47 196.32M612.47 192.5 L616.84 192.5 L618.06 193.59 L618.06 195.23 L617.01 196.32M625.47 192.5 L622.86 196.5 L625.47 200.5M627.61 192.5 L627.61 200.5 L633.72 200.5M638.81 192.5 L638.81 200.5M644.92 192.5 L644.92 200.5M638.81 196.41 L644.92 196.41M648.38 192.5 L651 196.5 L648.38 200.5" style="stroke-width:1;stroke-linejoin:round;stroke-linecap:square"/>
<path d="M516.77 248.86 L515.29 248.5 L513.73 249.14 L512.08 250.77 L511.3 252.68 L511.3 254.86 L512.86 256.5 L515.81 256.5 L517.38 254.86 L517.38 253.68 L515.81 252.14 L512.86 252.14 L511.3 253.5M520.59 250.14 L521.8 248.5 L524.93 248.5 L526.49 250.14 L526.49 251.23 L524.93 252.41 L522.84 252.41M524.93 252.41 L526.49 253.23 L526.49 254.86 L524.93 256.5 L521.8 256.5 L520.41 254.86M530.91 248.5 L534.21 248.5 L535.25 249.59 L535.25 251.23 L534.21 252.32 L530.91 252.32 L529.87 251.23 L529.87 249.59 L530.91 248.5M531.09 252.32 L529.53 253.23 L529.53 254.86 L531.09 256.5 L534.04 256.5 L535.6 254.86 L535.6 253.23 L534.04 252.32M538.51 250.23 L540.42 248.5 L540.42 256.5M538.68 256.5 L542.33 256.5M545.24 250.14 L546.45 248.5 L549.57 248.5 L551.14 250.14 L551.14 251.23 L549.57 252.41 L547.49 252.41M549.57 252.41 L551.14 253.23 L551.14 254.86 L549.57 256.5 L546.45 256.5 L545.06 254.86M560.25 248.5 L554.17 248.5 L554.17 256.5 L560.25 256.5M554.17 252.41 L558.51 252.41" style="stroke-width:1;stroke-linejoin:round;stroke-linecap:square"/>
<path d="M678.9 158.41 L678.06 157.5 L673.84 157.5 L673 158.41 L673 159.32 L678.9 163.68 L678.9 164.59 L678.06 165.5 L673.84 165.5 L673 164.59M687.75 157.5 L681.85 157.5 L681.85 165.5 L687.75 165.5M681.85 161.41 L686.06 161.41M696.59 158.95 L695.08 157.5 L692.21 157.5 L690.7 159.14 L690.7 163.86 L692.21 165.5 L695.08 165.5 L696.59 164.05M699.71 164.59 L700.55 164.59 L700.55 165.5 L699.71 165.5 L699.71 164.59M710.98 157.86 L709.54 157.5 L708.03 158.14 L706.43 159.77 L705.67 161.68 L705.67 163.86 L707.18 165.5 L710.05 165.5 L711.57 163.86 L711.57 162.68 L710.05 161.14 L707.18 161.14 L705.67 162.5M719.82 157.86 L718.39 157.5 L716.87 158.14 L715.27 159.77 L714.51 161.68 L714.51 163.86 L716.03 165.5 L718.9 165.5 L720.41 163.86 L720.41 162.68 L718.9 161.14 L716.03 161.14 L714.51 162.5M724.62 157.5 L726.99 157.5 L728.25 159.14 L728.25 163.86 L726.99 165.5 L724.62 165.5 L723.36 163.86 L723.36 159.14 L724.62 157.5" style="stroke-width:1;stroke-linejoin:round;stroke-linecap:square"/>
<path d="M843.97 170.86 L842.5 170.5 L840.93 171.14 L839.28 172.77 L838.5 174.68 L838.5 176.86 L840.06 178.5 L843.02 178.5 L844.58 176.86 L844.58 175.68 L843.02 174.14 L840.06 174.14 L838.5 175.5M847.79 172.14 L849.01 170.5 L852.14 170.5 L853.7 172.14 L853.7 173.23 L852.14 174.41 L850.05 174.41M852.14 174.41 L853.7 175.23 L853.7 176.86 L852.14 178.5 L849.01 178.5 L847.62 176.86M856.61 172.23 L858.52 170.5 L858.52 178.5M856.78 178.5 L860.43 178.5M864.46 170.5 L866.91 170.5 L868.2 172.14 L868.2 176.86 L866.91 178.5 L864.46 178.5 L863.17 176.86 L863.17 172.14 L864.46 170.5M871.11 172.23 L873.02 170.5 L873.02 178.5M871.29 178.5 L874.93 178.5M877.67 178.5 L880.71 170.5 L883.75 178.5M878.8 175.77 L882.62 175.77" style="stroke-width:1;stroke-linejoin:round;stroke-linecap:square"/>
<path d="M876.85 298.86 L875.34 298.5 L873.74 299.14 L872.05 300.77 L871.25 302.68 L871.25 304.86 L872.85 306.5 L875.87 306.5 L877.47 304.86 L877.47 303.68 L875.87 302.14 L872.85 302.14 L871.25 303.5M880.76 300.14 L882.01 298.5 L885.21 298.5 L886.81 300.14 L886.81 301.23 L885.21 302.41 L883.08 302.41M885.21 302.41 L886.81 303.23 L886.81 304.86 L885.21 306.5 L882.01 306.5 L880.59 304.86M891.34 298.5 L894.72 298.5 L895.79 299.59 L895.79 301.23 L894.72 302.32 L891.34 302.32 L890.28 301.23 L890.28 299.59 L891.34 298.5M891.52 302.32 L889.92 303.23 L889.92 304.86 L891.52 306.5 L894.54 306.5 L896.15 304.86 L896.15 303.23 L894.54 302.32M899.26 300.14 L900.86 298.5 L903.88 298.5 L905.48 300.14 L905.48 301.41 L903.88 302.68 L900.86 303.23 L899.26 304.86 L899.26 306.5 L905.48 306.5M909.92 298.5 L912.43 298.5 L913.75 300.14 L913.75 304.86 L912.43 306.5 L909.92 306.5 L908.59 304.86 L908.59 300.14 L909.92 298.5" style="stroke-width:1;stroke-linejoin:round;stroke-linecap:square"/>
<path d="M491.71 357.86 L490.2 357.5 L488.59 358.14 L486.9 359.77 L486.1 361.68 L486.1 363.86 L487.7 365.5 L490.73 365.5 L492.34 363.86 L492.34 362.68 L490.73 361.14 L487.7 361.14 L486.1 362.5M495.63 359.14 L496.88 357.5 L500.09 357.5 L501.69 359.14 L501.69 360.23 L500.09 361.41 L497.95 361.41M500.09 361.41 L501.69 362.23 L501.69 363.86 L500.09 365.5 L496.88 365.5 L495.46 363.86M504.68 359.23 L506.64 357.5 L506.64 365.5M504.86 365.5 L508.6 365.5M511.41 359.14 L513.01 357.5 L516.04 357.5 L517.64 359.14 L517.64 360.41 L516.04 361.68 L513.01 362.23 L511.41 363.86 L511.41 365.5 L517.64 365.5M520.76 359.14 L522.36 357.5 L525.39 357.5 L527 359.14 L527 360.41 L525.39 361.68 L522.36 362.23 L520.76 363.86 L520.76 365.5 L527 365.5M534.04 357.5 L531.36 361.5 L534.04 365.5M536.22 365.5 L536.22 357.5 L540.85 357.5 L542.46 359.14 L542.46 360.23 L540.85 361.5 L536.22 361.5M539.43 361.5 L542.46 365.5M547.66 357.5 L547.66 365.5M553.89 357.5 L553.89 365.5M547.66 361.41 L553.89 361.41M557.43 357.5 L560.1 361.5 L557.43 365.5" style="stroke-width:1;stroke-linejoin:round;stroke-linecap:square"/>
<path d="M491.71 370.86 L490.2 370.5 L488.59 371.14 L486.9 372.77 L486.1 374.68 L486.1 376.86 L487.7 378.5 L490.73 378.5 L492.34 376.86 L492.34 375.68 L490.73 374.14 L487.7 374.14 L486.1 375.5M495.63 372.14 L496.88 370.5 L500.09 370.5 L501.69 372.14 L501.69 373.23 L500.09 374.41 L497.95 374.41M500.09 374.41 L501.69 375.23 L501.69 376.86 L500.09 378.5 L496.88 378.5 L495.46 376.86M504.68 372.23 L506.64 370.5 L506.64 378.5M504.86 378.5 L508.6 378.5M511.41 372.14 L513.01 370.5 L516.04 370.5 L517.64 372.14 L517.64 373.41 L516.04 374.68 L513.01 375.23 L511.41 376.86 L511.41 378.5 L517.64 378.5M520.94 372.14 L522.19 370.5 L525.39 370.5 L527 372.14 L527 373.23 L525.39 374.41 L523.26 374.41M525.39 374.41 L527 375.23 L527 376.86 L525.39 378.5 L522.19 378.5 L520.76 376.86M534.04 370.5 L531.36 374.5 L534.04 378.5M536.22 370.5 L536.22 378.5 L542.46 378.5M547.66 370.5 L547.66 378.5M553.89 370.5 L553.89 378.5M547.66 374.41 L553.89 374.41M557.43 370.5 L560.1 374.5 L557.43 378.5" style="stroke-width:1;stroke-linejoin:round;stroke-linecap:square"/>
<path d="M427.96 430.86 L426.48 430.5 L424.93 431.14 L423.28 432.77 L422.5 434.68 L422.5 436.86 L424.06 438.5 L427 438.5 L428.56 436.86 L428.56 435.68 L427 434.14 L424.06 434.14 L422.5 435.5M431.77 432.14 L432.98 430.5 L436.1 430.5 L437.66 432.14 L437.66 433.23 L436.1 434.41 L434.02 434.41M436.1 434.41 L437.66 435.23 L437.66 436.86 L436.1 438.5 L432.98 438.5 L431.6 436.86M440.56 432.23 L442.47 430.5 L442.47 438.5M440.73 438.5 L444.37 438.5M451.61 438.5 L451.61 430.5 L447.1 436.14 L453.17 436.14M457.49 430.5 L459.93 430.5 L461.22 432.14 L461.22 436.86 L459.93 438.5 L457.49 438.5 L456.2 436.86 L456.2 432.14 L457.49 430.5M464.25 438.5 L464.25 430.5 L467.29 434.86 L470.32 430.5 L470.32 438.5M477.16 430.5 L474.56 434.5 L477.16 438.5M479.28 438.5 L479.28 430.5 L483.79 430.5 L485.35 432.14 L485.35 433.23 L483.79 434.5 L479.28 434.5M482.4 434.5 L485.35 438.5M490.4 430.5 L490.4 438.5M496.46 430.5 L496.46 438.5M490.4 434.41 L496.46 434.41M499.9 430.5 L502.5 434.5 L499.9 438.5" style="stroke-width:1;stroke-linejoin:round;stroke-linecap:square"/>
<path d="M428.07 443.86 L426.57 443.5 L424.98 444.14 L423.3 445.77 L422.5 447.68 L422.5 449.86 L424.09 451.5 L427.1 451.5 L428.69 449.86 L428.69 448.68 L427.1 447.14 L424.09 447.14 L422.5 448.5M431.96 445.14 L433.2 443.5 L436.39 443.5 L437.98 445.14 L437.98 446.23 L436.39 447.41 L434.26 447.41M436.39 447.41 L437.98 448.23 L437.98 449.86 L436.39 451.5 L433.2 451.5 L431.79 449.86M440.94 445.23 L442.89 443.5 L442.89 451.5M441.12 451.5 L444.83 451.5M452.22 451.5 L452.22 443.5 L447.62 449.14 L453.81 449.14M456.77 445.23 L458.72 443.5 L458.72 451.5M456.95 451.5 L460.66 451.5M463.45 451.5 L463.45 443.5 L466.55 447.86 L469.64 443.5 L469.64 451.5M476.63 443.5 L473.98 447.5 L476.63 451.5M478.8 443.5 L478.8 451.5 L484.99 451.5M490.15 443.5 L490.15 451.5M496.34 443.5 L496.34 451.5M490.15 447.41 L496.34 447.41M499.85 443.5 L502.5 447.5 L499.85 451.5" style="stroke-width:1;stroke-linejoin:round;stroke-linecap:square"/>
<path d="M471.74 509.86 L470.26 509.5 L468.69 510.14 L467.03 511.77 L466.25 513.68 L466.25 515.86 L467.82 517.5 L470.78 517.5 L472.35 515.86 L472.35 514.68 L470.78 513.14 L467.82 513.14 L466.25 514.5M475.57 511.14 L476.79 509.5 L479.93 509.5 L481.49 511.14 L481.49 512.23 L479.93 513.41 L477.83 513.41M479.93 513.41 L481.49 514.23 L481.49 515.86 L479.93 517.5 L476.79 517.5 L475.4 515.86M484.41 511.23 L486.33 509.5 L486.33 517.5M484.59 517.5 L488.24 517.5M492.29 509.5 L494.74 509.5 L496.04 511.14 L496.04 515.86 L494.74 517.5 L492.29 517.5 L490.99 515.86 L490.99 511.14 L492.29 509.5M500.39 509.5 L502.84 509.5 L504.14 511.14 L504.14 515.86 L502.84 517.5 L500.39 517.5 L499.09 515.86 L499.09 511.14 L500.39 509.5M511.02 509.5 L508.41 513.5 L511.02 517.5M513.16 517.5 L513.16 509.5 L517.69 509.5 L519.25 511.14 L519.25 512.23 L517.69 513.5 L513.16 513.5M516.29 513.5 L519.25 517.5M524.33 509.5 L524.33 517.5M530.43 509.5 L530.43 517.5M524.33 513.41 L530.43 513.41M533.89 509.5 L536.5 513.5 L533.89 517.5" style="stroke-width:1;stroke-linejoin:round;stroke-linecap:square"/>
<path d="M471.97 522.86 L470.43 522.5 L468.79 523.14 L467.07 524.77 L466.25 526.68 L466.25 528.86 L467.88 530.5 L470.97 530.5 L472.61 528.86 L472.61 527.68 L470.97 526.14 L467.88 526.14 L466.25 527.5M475.97 524.14 L477.24 522.5 L480.51 522.5 L482.14 524.14 L482.14 525.23 L480.51 526.41 L478.33 526.41M480.51 526.41 L482.14 527.23 L482.14 528.86 L480.51 530.5 L477.24 530.5 L475.79 528.86M485.19 524.23 L487.18 522.5 L487.18 530.5M485.37 530.5 L489.18 530.5M493.4 522.5 L495.96 522.5 L497.31 524.14 L497.31 528.86 L495.96 530.5 L493.4 530.5 L492.04 528.86 L492.04 524.14 L493.4 522.5M500.35 524.23 L502.35 522.5 L502.35 530.5M500.53 530.5 L504.35 530.5M509.93 522.5 L507.21 526.5 L509.93 530.5M512.16 522.5 L512.16 530.5 L518.52 530.5M523.82 522.5 L523.82 530.5M530.17 522.5 L530.17 530.5M523.82 526.41 L530.17 526.41M533.78 522.5 L536.5 526.5 L533.78 530.5" style="stroke-width:1;stroke-linejoin:round;stroke-linecap:square"/>
<path d="M942.53 536 L936 536 L936 546.5 L942.53 546.5M936 541.13 L940.66 541.13M953.41 536.48 L951.82 536 L950.14 536.84 L948.37 538.98 L947.53 541.49 L947.53 544.35 L949.21 546.5 L952.38 546.5 L954.06 544.35 L954.06 542.8 L952.38 540.77 L949.21 540.77 L947.53 542.56M959.25 538.15 L960.55 536 L963.91 536 L965.59 538.15 L965.59 539.58 L963.91 541.13 L961.67 541.13M963.91 541.13 L965.59 542.2 L965.59 544.35 L963.91 546.5 L960.55 546.5 L959.06 544.35M971.98 536 L974.61 536 L976 538.15 L976 544.35 L974.61 546.5 L971.98 546.5 L970.59 544.35 L970.59 538.15 L971.98 536M982.4 536 L985.03 536 L986.42 538.15 L986.42 544.35 L985.03 546.5 L982.4 546.5 L981.01 544.35 L981.01 538.15 L982.4 536M992.81 536 L995.44 536 L996.83 538.15 L996.83 544.35 L995.44 546.5 L992.81 546.5 L991.42 544.35 L991.42 538.15 L992.81 536M1001.69 538.27 L1003.74 536 L1003.74 546.5M1001.88 546.5 L1005.79 546.5M1011.96 536 L1015.51 536 L1016.63 537.43 L1016.63 539.58 L1015.51 541.01 L1011.96 541.01 L1010.85 539.58 L1010.85 537.43 L1011.96 536M1012.15 541.01 L1010.47 542.2 L1010.47 544.35 L1012.15 546.5 L1015.32 546.5 L1017 544.35 L1017 542.2 L1015.32 541.01" style="stroke-width:1;stroke-linejoin:round;stroke-linecap:square"/>
</svg>
</body></html>
